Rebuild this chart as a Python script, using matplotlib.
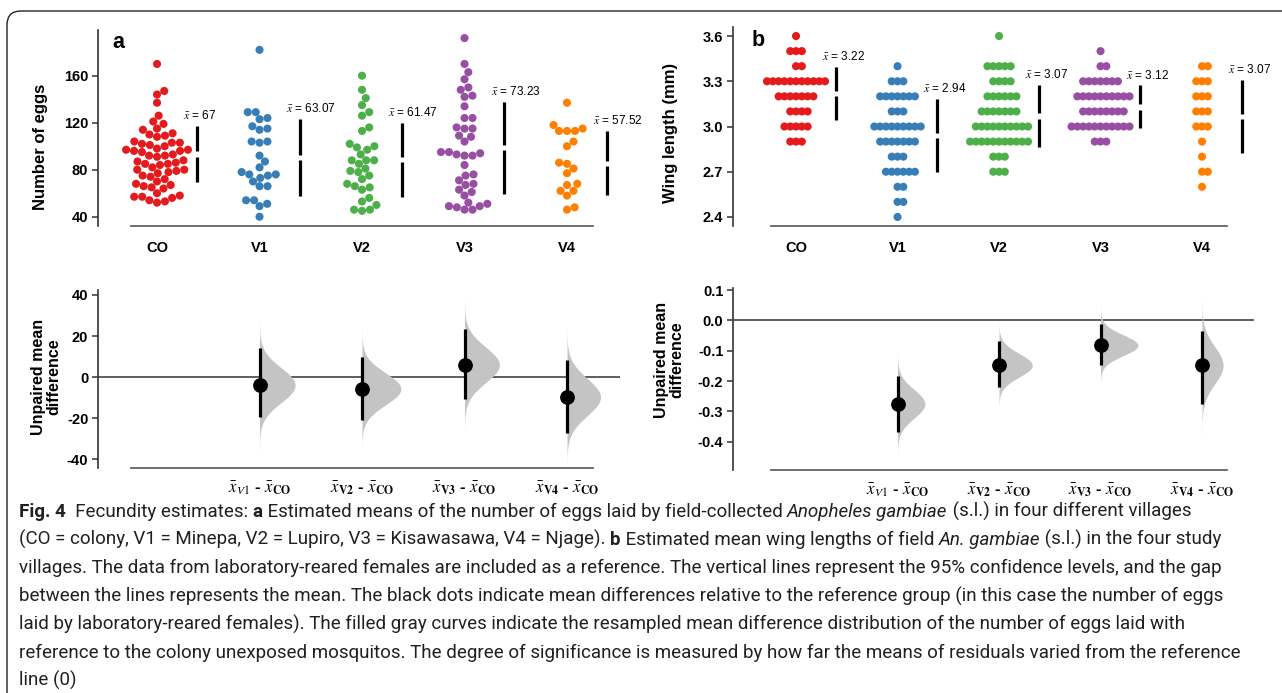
import numpy as np
import matplotlib
matplotlib.use('Agg')
import matplotlib.pyplot as plt
from matplotlib import font_manager
from matplotlib.patches import FancyBboxPatch
from matplotlib.transforms import IdentityTransform


def pick_font(names):
    for n in names:
        try:
            font_manager.findfont(n, fallback_to_default=False)
            return n
        except ValueError:
            pass
    return 'DejaVu Sans'


main_font = pick_font(['Liberation Sans', 'Arial'])
cap_font = pick_font(['Liberation Sans Narrow', 'Roboto'])
plt.rcParams['font.family'] = [main_font, 'DejaVu Sans']
plt.rcParams['mathtext.fontset'] = 'stix'

# ---- dados ----
groups = ['CO', 'V1', 'V2', 'V3', 'V4']
colors = ['#e41a1c', '#377eb8', '#4daf4a', '#984ea3', '#ff7f00']

eggs_co = [170, 147, 144, 137, 126, 121, 119, 115, 114, 111, 110, 109, 108, 104, 103,
           103, 102, 101, 100, 98, 97, 97, 96, 96, 95, 93, 92, 92, 91, 88, 87, 86, 85,
           85, 84, 82, 80, 80, 79, 78, 77, 75, 74, 72, 70, 68, 67, 66, 65, 64, 60, 58,
           57, 57, 56, 54, 53, 52]
eggs_v1 = [182, 124, 129, 129, 123, 114, 117, 115, 104, 103, 104, 92, 82, 87, 70, 76,
           75, 73, 78, 76, 66, 66, 54, 49, 54, 51, 40]
eggs_v2 = [160, 148, 141, 135, 129, 126, 116, 113, 102, 93, 99, 97, 100, 88, 88, 88,
           85, 81, 75, 79, 78, 72, 65, 68, 66, 63, 56, 53, 50, 46, 45, 46]
eggs_v3 = [192, 170, 163, 157, 150, 142, 148, 143, 134, 124, 124, 116, 115, 115, 108,
           109, 104, 94, 92, 95, 93, 95, 92, 84, 75, 76, 68, 63, 61, 71, 67, 58, 52, 49,
           46, 46, 49, 48, 51]
eggs_v4 = [137, 118, 113, 113, 113, 115, 104, 100, 85, 86, 81, 77, 67, 68, 62, 62, 58,
           48, 46]

wing_co = [3.6] + [3.5]*3 + [3.4]*2 + [3.3]*11 + [3.2]*7 + [3.1]*4 + [3.0]*5 + [2.9]*3
wing_v1 = ([3.4] + [3.3]*3 + [3.2]*7 + [3.1]*3 + [3.0]*9 + [2.9]*7 + [2.8]*3 +
           [2.7]*6 + [2.6]*2 + [2.5]*2 + [2.4])
wing_v2 = ([3.6] + [3.4]*5 + [3.3]*4 + [3.2]*6 + [3.1]*7 + [3.0]*10 + [2.9]*11 +
           [2.8]*3 + [2.7]*3)
wing_v3 = [3.5] + [3.4]*2 + [3.3]*7 + [3.2]*10 + [3.1]*8 + [3.0]*11 + [2.9]*3
wing_v4 = ([3.4]*2 + [3.3]*3 + [3.2]*3 + [3.1]*3 + [3.0]*3 + [2.9] + [2.8] +
           [2.7]*2 + [2.6])

eggs_mean = [93.4, 90.2, 88.5, 98.6, 85.6]
eggs_sd = [23.9, 32.6, 31.5, 39.3, 27.2]
eggs_labels = ['67', '63.07', '61.47', '73.23', '57.52']
wing_mean = [3.22, 2.94, 3.07, 3.13, 3.067]
wing_sd = [0.177, 0.243, 0.205, 0.142, 0.241]
wing_labels = ['3.22', '2.94', '3.07', '3.12', '3.07']

diff_eggs = [-3.9, -5.7, 6.0, -9.7]
diff_eggs_lo = [-19.2, -20.8, -10.6, -27.0]
diff_eggs_hi = [14.1, 9.7, 23.4, 8.4]
diff_wing = [-0.275, -0.148, -0.082, -0.148]
diff_wing_lo = [-0.368, -0.220, -0.148, -0.275]
diff_wing_hi = [-0.183, -0.068, -0.013, -0.035]

eggs_ticks = [40, 80, 120, 160]
wing_ticks = [2.4, 2.7, 3.0, 3.3, 3.6]
deggs_ticks = [-40, -20, 0, 20, 40]
dwing_ticks = [-0.4, -0.3, -0.2, -0.1, 0.0, 0.1]

diff_labels = [r'$\bar{x}_{V1}$ - $\bar{x}_{\mathbf{CO}}$',
               r'$\bar{x}_{\mathbf{V2}}$ - $\bar{x}_{\mathbf{CO}}$',
               r'$\bar{x}_{\mathbf{V3}}$ - $\bar{x}_{\mathbf{CO}}$',
               r'$\bar{x}_{\mathbf{V4}}$ - $\bar{x}_{\mathbf{CO}}$']

caption = [
    [('Fig. 4', 'b'), ('  Fecundity estimates: ', 'n'), ('a', 'b'),
     (' Estimated means of the number of eggs laid by field-collected ', 'n'),
     ('Anopheles gambiae', 'i'), (' (s.l.) in four different villages', 'n')],
    [('(CO = colony, V1 = Minepa, V2 = Lupiro, V3 = Kisawasawa, V4 = Njage). ', 'n'),
     ('b', 'b'), (' Estimated mean wing lengths of field ', 'n'), ('An. gambiae', 'i'),
     (' (s.l.) in the four study', 'n')],
    [('villages. The data from laboratory-reared females are included as a reference. '
      'The vertical lines represent the 95% confidence levels, and the gap', 'n')],
    [('between the lines represents the mean. The black dots indicate mean differences '
      'relative to the reference group (in this case the number of eggs', 'n')],
    [('laid by laboratory-reared females). The filled gray curves indicate the resampled '
      'mean difference distribution of the number of eggs laid with', 'n')],
    [('reference to the colony unexposed mosquitos. The degree of significance is '
      'measured by how far the means of residuals varied from the reference', 'n')],
    [('line (0)', 'n')],
]

W, H = 1282, 693
fig = plt.figure(figsize=(W / 100, H / 100), dpi=100)


def box(x0, y0, x1, y1):
    return [x0 / W, 1 - y1 / H, (x1 - x0) / W, (y1 - y0) / H]


ax_a = fig.add_axes(box(98, 30, 620, 226))
ax_ad = fig.add_axes(box(98, 290, 620, 468))
ax_b = fig.add_axes(box(733, 27, 1254, 226))
ax_bd = fig.add_axes(box(733, 288, 1254, 470))

xlim_a = (-0.576, 4.517)
xlim_b = (-0.621, 4.512)


def style(ax, xlim, ylim, ticks, labels):
    ax.set_xlim(xlim)
    ax.set_ylim(ylim)
    ax.patch.set_alpha(0)
    ax.spines['top'].set_visible(False)
    ax.spines['right'].set_visible(False)
    ax.spines['left'].set_color('#333333')
    ax.spines['left'].set_linewidth(1.2)
    ax.spines['bottom'].set_color('#555555')
    ax.spines['bottom'].set_linewidth(1.2)
    ax.spines['bottom'].set_bounds(-0.25, 4.25)
    ax.set_yticks(ticks)
    ax.set_yticklabels(labels, fontweight='bold', fontsize=10.5)
    ax.tick_params(axis='y', length=4, width=1.1, color='#333333', pad=3)
    ax.tick_params(axis='x', length=0)


style(ax_a, xlim_a, (32.1, 198.9), eggs_ticks, [str(t) for t in eggs_ticks])
style(ax_b, xlim_b, (2.34, 3.66), wing_ticks, [f'{t:.1f}' for t in wing_ticks])
style(ax_ad, xlim_a, (-44.2, 42.4), deggs_ticks, [str(t) for t in deggs_ticks])
style(ax_bd, xlim_b, (-0.493, 0.1066), dwing_ticks, [f'{t:.1f}' for t in dwing_ticks])

for ax in (ax_a, ax_b):
    ax.set_xticks(range(5))
    ax.set_xticklabels(groups, fontweight='bold', fontsize=10.5)
    ax.tick_params(axis='x', pad=11)
for ax in (ax_ad, ax_bd):
    ax.set_xticks(range(1, 5))
    ax.set_xticklabels(diff_labels, fontweight='bold', fontsize=12)
    ax.tick_params(axis='x', pad=8)


def swarm_x(ax, xc, vals, d):
    pts = ax.transData.transform(np.column_stack([np.full(len(vals), xc), vals]))
    ys = pts[:, 1]
    offs = np.zeros(len(vals))
    placed = []
    for i in np.argsort(ys, kind='stable'):
        y = ys[i]
        near = [(px, py) for px, py in placed if abs(py - y) < d]
        cands = [0.0]
        for px, py in near:
            dx = np.sqrt(d ** 2 - (py - y) ** 2)
            cands += [px + dx, px - dx]
        cands.sort(key=abs)
        for c in cands:
            if all((c - px) ** 2 + (y - py) ** 2 >= d ** 2 - 1e-6 for px, py in near):
                offs[i] = c
                break
        placed.append((offs[i], y))
    back = ax.transData.inverted().transform(np.column_stack([pts[:, 0] + offs, ys]))
    return back[:, 0]


def px_per_unit(ax):
    p = ax.transData.transform([(0, 0), (0, 1)])
    return p[1, 1] - p[0, 1]


def top_panel(ax, data, means, sds, labels, d):
    for i, vals in enumerate(data):
        xs = swarm_x(ax, i, vals, d)
        ax.scatter(xs, vals, s=34, color=colors[i], edgecolors='none', zorder=3)
    gap = 2.6 / px_per_unit(ax)
    for i, (m, s) in enumerate(zip(means, sds)):
        bx = i + 0.39
        ax.vlines(bx, m + gap, m + s, color='black', lw=2.3)
        ax.vlines(bx, m - s, m - gap, color='black', lw=2.3)
        ax.annotate(r'$\bar{x}$ = ' + labels[i], xy=(bx, m + s), xytext=(-10, 5),
                    textcoords='offset points', fontsize=8.5, ha='left', va='baseline',
                    annotation_clip=False)


def diff_panel(ax, mu, lo, hi, c):
    ax.axhline(0, color='#333333', lw=1.1, zorder=1)
    for i in range(len(mu)):
        x = i + 1
        sig = (hi[i] - lo[i]) / 3.92
        ys = np.linspace(mu[i] - 3.8 * sig, mu[i] + 3.8 * sig, 200)
        w = c / sig * np.exp(-0.5 * ((ys - mu[i]) / sig) ** 2)
        ax.fill_betweenx(ys, x, x + w, color='#c4c4c4', lw=0, zorder=2)
        ax.vlines(x, lo[i], hi[i], color='black', lw=2.3, zorder=3)
        ax.plot(x, mu[i], 'o', ms=9.6, color='black', zorder=4)


top_panel(ax_a, [eggs_co, eggs_v1, eggs_v2, eggs_v3, eggs_v4], eggs_mean, eggs_sd,
          eggs_labels, 8.0)
top_panel(ax_b, [wing_co, wing_v1, wing_v2, wing_v3, wing_v4], wing_mean, wing_sd,
          wing_labels, 5.8)
diff_panel(ax_ad, diff_eggs, diff_eggs_lo, diff_eggs_hi, 2.95)
diff_panel(ax_bd, diff_wing, diff_wing_lo, diff_wing_hi, 0.0127)


def ftext(x, y, s, **kw):
    fig.text(x / W, 1 - y / H, s, **kw)


ftext(41, 147, 'Number of eggs', rotation=90, ha='center', va='center',
      fontsize=12, fontweight='bold')
ftext(671, 133, 'Wing length (mm)', rotation=90, ha='center', va='center',
      fontsize=12, fontweight='bold')
ftext(46, 377, 'Unpaired mean\ndifference', rotation=90, ha='center', va='center',
      fontsize=11.5, fontweight='bold', linespacing=1.0)
ftext(669, 360, 'Unpaired mean\ndifference', rotation=90, ha='center', va='center',
      fontsize=11.5, fontweight='bold', linespacing=1.0)
ftext(112, 48, 'a', fontsize=15.5, fontweight='bold', va='baseline')
ftext(752, 46, 'b', fontsize=15.5, fontweight='bold', va='baseline')

# moldura arredondada
frame = FancyBboxPatch((7, -60), 1400, H - 11 + 60, boxstyle='round,pad=0,rounding_size=14',
                       transform=IdentityTransform(), fill=False, edgecolor='#222222', lw=1)
fig.add_artist(frame)

# legenda (caption)
renderer = fig.canvas.get_renderer()
fam = [cap_font, 'DejaVu Sans']


def seg_props(st):
    return dict(family=fam, fontweight='bold' if st == 'b' else 'normal',
                fontstyle='italic' if st == 'i' else 'normal')


def seg_width(txt, size, st):
    t1 = fig.text(0, 0, '|' + txt + '|', fontsize=size, **seg_props(st))
    t2 = fig.text(0, 0, '||', fontsize=size, **seg_props(st))
    w = t1.get_window_extent(renderer).width - t2.get_window_extent(renderer).width
    t1.remove()
    t2.remove()
    return w


base = 10.0
w_ref = sum(seg_width(t, base, st) for t, st in caption[5])
cap_size = base * 1224 / w_ref

for k, line in enumerate(caption):
    x = 19
    y = H - (517 + 28.1 * k)
    for txt, st in line:
        fig.text(x, y, txt, fontsize=cap_size, transform=IdentityTransform(),
                 va='baseline', color='#231f20', **seg_props(st))
        x += seg_width(txt, cap_size, st)

fig.savefig('out.png', dpi=100)
